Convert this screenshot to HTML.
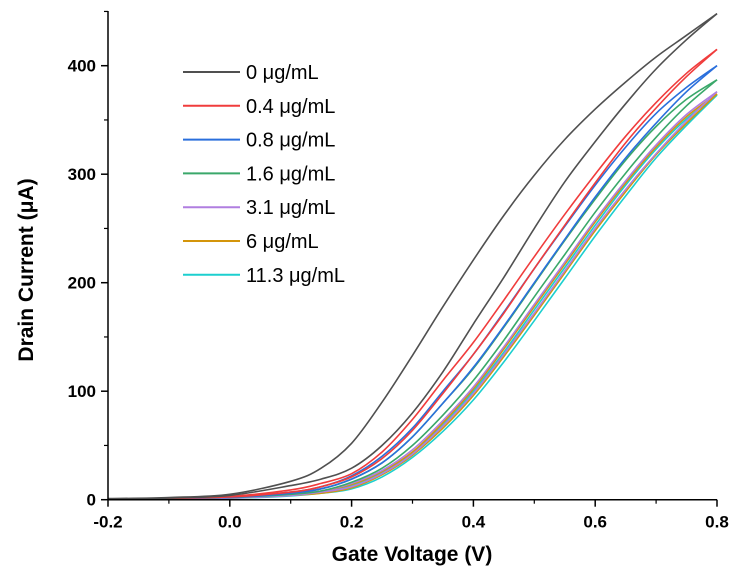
<!DOCTYPE html>
<html><head><meta charset="utf-8"><style>
body{margin:0;background:#fff}
svg{display:block;font-family:"Liberation Sans",Arial,sans-serif}
</style></head><body>
<svg id="chart" width="732" height="581">
<g id="plot"></g>
<g id="axes"></g>
<g id="legend"></g>
<text x="412" y="561" text-anchor="middle" font-size="21" font-weight="bold">Gate Voltage (V)</text>
<text transform="translate(33,270) rotate(-90)" text-anchor="middle" font-size="21" font-weight="bold">Drain Current (μA)</text>
</svg>
<script>
const xTicks=[-0.2,0,0.2,0.4,0.6,0.8];
const xTickLabels=["-0.2","0.0","0.2","0.4","0.6","0.8"];
const yTicks=[0,100,200,300,400];
const yTickLabels=["0","100","200","300","400"];
const seriesNames=["0 μg/mL","0.4 μg/mL","0.8 μg/mL","1.6 μg/mL","3.1 μg/mL","6 μg/mL","11.3 μg/mL"];
const seriesColors=["#505050","#f03c3c","#2a6fdc","#3aa86a","#b07ee0","#d4950a","#1ccfcf"];
const voltages=[-0.2,-0.1,0,0.1,0.15,0.2,0.25,0.3,0.35,0.4,0.45,0.5,0.55,0.6,0.65,0.7,0.75,0.8];
const upper0=[1,2,5,17,29,52,90,133,178,221,262,299,332,360,385,408,428,448];
const lower0=[0.5,1.5,4,13,19,29,50,80,118,162,205,250,293,330,365,397,424,448];
const upper1=[0.5,1.5,3,9,15,24,44,74,110,145,184,224,263,300,335,366,393,415];
const lower1=[0.5,1.2,2.5,7,12,21,38,64,98,134,172,213,253,292,329,361,390,415];
const upper2=[0.5,1.2,2.5,7,12,22,40,66,100,134,173,213,252,290,325,356,380,400];
const lower2=[0.5,1,2,6,10,19,34,58,89,122,160,200,240,279,315,347,376,400];
const upper3=[0.5,1,2,6,10,19,34,58,89,121,159,199,239,277,313,344,369,387];
const lower3=[0.5,1,2,5,8,16,29,50,78,110,147,187,226,265,301,334,363,387];
const upper4=[0.5,1,2,5,8,15,27,46,73,104,141,180,219,258,294,327,355,376];
const lower4=[0.5,1,1.5,4,7,12,24,42,68,98,134,172,211,250,286,319,349,376];
const upper5=[0.5,1,2,5,8,14,26,44,71,102,139,178,217,256,292,325,353,374];
const lower5=[0.5,1,1.5,4,6,11,23,41,66,96,132,170,209,248,284,318,347,374];
const upper6=[0.5,1,1.8,4.5,7,13,25,43,69,100,136,175,214,253,290,323,351,373];
const lower6=[0.3,0.8,1.2,3.5,6,10,21,39,63,92,127,165,204,243,280,315,345,373];
const uppers=[upper0,upper1,upper2,upper3,upper4,upper5,upper6];
const lowers=[lower0,lower1,lower2,lower3,lower4,lower5,lower6];

const X0=108,X1=717,YB=499.7,YT=11;
const xs=v=>X0+(v+0.2)*(X1-X0);
const ys=i=>YB-i*1.085;
const NS="http://www.w3.org/2000/svg";
function mk(t,a,p){const e=document.createElementNS(NS,t);for(const k in a)e.setAttribute(k,a[k]);p.appendChild(e);return e;}
function smooth(pts){let d="M"+pts[0][0].toFixed(1)+","+pts[0][1].toFixed(1);
for(let i=0;i<pts.length-1;i++){const p0=pts[Math.max(0,i-1)],p1=pts[i],p2=pts[i+1],p3=pts[Math.min(pts.length-1,i+2)];
const c1=[p1[0]+(p2[0]-p0[0])/6,p1[1]+(p2[1]-p0[1])/6],c2=[p2[0]-(p3[0]-p1[0])/6,p2[1]-(p3[1]-p1[1])/6];
d+="C"+c1.map(v=>v.toFixed(1))+" "+c2.map(v=>v.toFixed(1))+" "+p2.map(v=>v.toFixed(1));}return d;}
const plot=document.getElementById('plot');
for(let s=uppers.length-1;s>=0;s--){
 const up=voltages.map((v,i)=>[xs(v),ys(uppers[s][i])]);
 const lo=voltages.map((v,i)=>[xs(v),ys(lowers[s][i])]);
 const p1=mk('path',{d:smooth(up),fill:'none',stroke:seriesColors[s],'stroke-width':1.6},plot);
 
 
 const p2=mk('path',{d:smooth(lo),fill:'none',stroke:seriesColors[s],'stroke-width':1.6},plot);
 
 
}
const ax=document.getElementById('axes');
mk('line',{x1:X0,y1:YT,x2:X0,y2:YB,stroke:'#000','stroke-width':1.5},ax);
mk('line',{x1:X0,y1:YB,x2:X1,y2:YB,stroke:'#000','stroke-width':1.5},ax);
xTicks.forEach((v,i)=>{mk('line',{x1:xs(v),y1:YB,x2:xs(v),y2:YB+7,stroke:'#000','stroke-width':1.5},ax);
 if(i<xTicks.length-1)mk('line',{x1:xs(v+0.1),y1:YB,x2:xs(v+0.1),y2:YB+4,stroke:'#000','stroke-width':1.2},ax);
 const t=mk('text',{x:xs(v),y:YB+28,'text-anchor':'middle','font-size':17,'font-weight':'bold'},ax);t.textContent=xTickLabels[i];
 
 });
yTicks.forEach((v,i)=>{mk('line',{x1:X0,y1:ys(v),x2:X0-7,y2:ys(v),stroke:'#000','stroke-width':1.5},ax);
 mk('line',{x1:X0,y1:ys(v+50),x2:X0-4,y2:ys(v+50),stroke:'#000','stroke-width':1.2},ax);
 const t=mk('text',{x:X0-12,y:ys(v)+6,'text-anchor':'end','font-size':17,'font-weight':'bold'},ax);t.textContent=yTickLabels[i];
 
 });
const lg=document.getElementById('legend');
seriesNames.forEach((n,i)=>{const y=72+i*33.8;
 const g=mk('g',{},lg);
 
 
 mk('line',{x1:183,y1:y,x2:240,y2:y,stroke:seriesColors[i],'stroke-width':2},g);
 const t=mk('text',{x:246,y:y+7,'font-size':20},g);t.textContent=n;});
</script>
</body></html>
